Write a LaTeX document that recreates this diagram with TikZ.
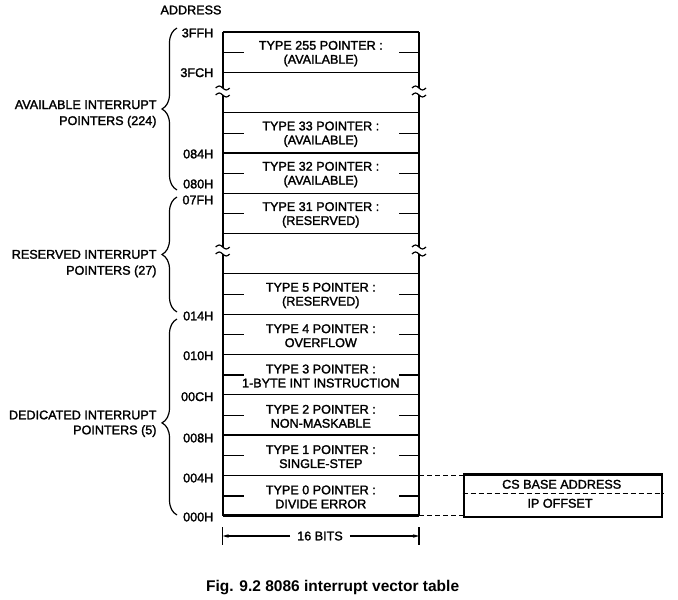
\documentclass[tikz,border=0pt]{standalone}
\usepackage{fontspec}
\setmainfont{Liberation Sans}[UprightFeatures={FakeBold=1.8}]
\usetikzlibrary{decorations.pathreplacing,arrows.meta,calc}
\begin{document}
\begin{tikzpicture}[x=1pt,y=-1pt,
  fnt/.style={font=\fontsize{12.6}{14}\selectfont},
  txt/.style={fnt, inner sep=0pt, align=center},
  addr/.style={fnt, inner sep=0pt, anchor=east},
  grp/.style={fnt, inner sep=0pt, anchor=base east},
  border/.style={line width=2.4pt},
  thin/.style={line width=1.2pt},
  brc/.style={decorate, decoration={brace, amplitude=15pt}, line width=1.2pt},
  dsh/.style={line width=1.1pt, dash pattern=on 5pt off 3pt},
  arr/.style={line width=1.1pt, -{Stealth[length=6pt,width=3.5pt]}},
  brk/.pic={\draw[thin] (-7,0) sin (-3.5,-2) cos (0,0) sin (3.5,2) cos (7,0);}
]
\useasboundingbox (0,0) rectangle (678,600);
\def\xL{222.7}
\def\xR{419}
% row line coordinates
\foreach \i in {0,...,12}{
  \coordinate (l\i) at (\xL,{32+40.3*\i});
  \coordinate (r\i) at (\xR,{32+40.3*\i});
}
% horizontal lines
\draw[border] (l0) -- (r0);
\draw[border] (l12) -- (r12);
\foreach \i in {1,...,11}{ \draw[thin] (l\i) -- (r\i); }
% vertical borders with breaks
\coordinate (bla) at (\xL,88);  \coordinate (blb) at (\xL,95);
\coordinate (blc) at (\xL,247); \coordinate (bld) at (\xL,254);
\coordinate (bra) at (\xR,88);  \coordinate (brb) at (\xR,95);
\coordinate (brc) at (\xR,247); \coordinate (brd) at (\xR,254);
\draw[border] (l0) -- (bla) (blb) -- (blc) (bld) -- (l12);
\draw[border] (r0) -- (bra) (brb) -- (brc) (brd) -- (r12);
\foreach \c in {bla,blb,blc,bld,bra,brb,brc,brd}{ \pic at (\c) {brk}; }
% ticks
\foreach \i in {0,2,3,4,6,7,8,9,10,11}{
  \pgfmathsetmacro\ym{32+40.3*(\i+0.5)+0.5}
  \draw[thin] (\xL,\ym) -- (244,\ym);
  \draw[thin] (399,\ym) -- (\xR,\ym);
}
% row texts
\foreach \i/\t in {0/{TYPE 255 POINTER :\\(AVAILABLE)},
                   2/{TYPE 33 POINTER :\\(AVAILABLE)},
                   3/{TYPE 32 POINTER :\\(AVAILABLE)},
                   4/{TYPE 31 POINTER :\\(RESERVED)},
                   6/{TYPE 5 POINTER :\\(RESERVED)},
                   7/{TYPE 4 POINTER :\\OVERFLOW},
                   8/{TYPE 3 POINTER :\\1-BYTE INT INSTRUCTION},
                   9/{TYPE 2 POINTER :\\NON-MASKABLE},
                   10/{TYPE 1 POINTER :\\SINGLE-STEP},
                   11/{TYPE 0 POINTER :\\DIVIDE ERROR}}{
  \node[txt] (t\i) at (320.8,{32+40.3*(\i+0.5)+1.5}) {\t};
}
% addresses
\node[fnt, inner sep=0pt] (address) at (191,10) {ADDRESS};
\foreach \n/\a/\y in {a1/3FFH/33, a2/3FCH/72.7, a3/084H/154, a4/080H/184,
                      a5/07FH/200, a6/014H/316, a7/010H/355.7, a8/00CH/396.7,
                      a9/008H/438, a10/004H/478, a11/000H/517}{
  \node[addr] (\n) at (213.5,\y) {\a};
}
% braces
\draw[brc] (177,190) -- (177,28);
\draw[brc] (177,312) -- (177,197);
\draw[brc, decoration={aspect=0.47}] (177,515) -- (177,319);
% group labels
\node[grp] (gavail1) at (156.7,109) {AVAILABLE INTERRUPT};
\node[grp] (gavail2) at (156.7,125) {POINTERS (224)};
\node[grp] (gres1) at (156.7,258.7) {RESERVED INTERRUPT};
\node[grp] (gres2) at (156.7,274.7) {POINTERS (27)};
\node[grp] (gded1) at (156.7,419.3) {DEDICATED INTERRUPT};
\node[grp] (gded2) at (156.7,434.3) {POINTERS (5)};
% 16 bits
\draw[thin] (\xL,527) -- (\xL,545);
\draw[thin] (\xR,527) -- (\xR,545);
\coordinate (dl) at (\xL,536);
\coordinate (dr) at (\xR,536);
\node[fnt, inner xsep=7pt, inner ysep=0pt] (bits) at (320,536) {16 BITS};
\draw[arr] (bits.west) -- (dl);
\draw[arr] (bits.east) -- (dr);
% CS box
\node[draw, border, minimum width=198pt, minimum height=42.7pt, anchor=north west, inner sep=0pt] (cs) at (462.7,473.3) {};
\node[fnt, inner sep=0pt] (csb) at (561.7,484.3) {CS BASE ADDRESS};
\node[fnt, inner sep=0pt] (ipo) at (560,503.3) {IP OFFSET};
\draw[dsh] (cs.west |- 0,493.3) -- (cs.east |- 0,493.3);
\draw[dsh] (r11) -- (r11 -| cs.west);
\draw[dsh] (r12) -- (r12 -| cs.west);
% caption
\node[font=\fontsize{15.5}{18}\selectfont\bfseries, inner sep=0pt, anchor=base west] (cap) at (206,591.7) {Fig. 9.2 8086 interrupt vector table};
\end{tikzpicture}
\end{document}
